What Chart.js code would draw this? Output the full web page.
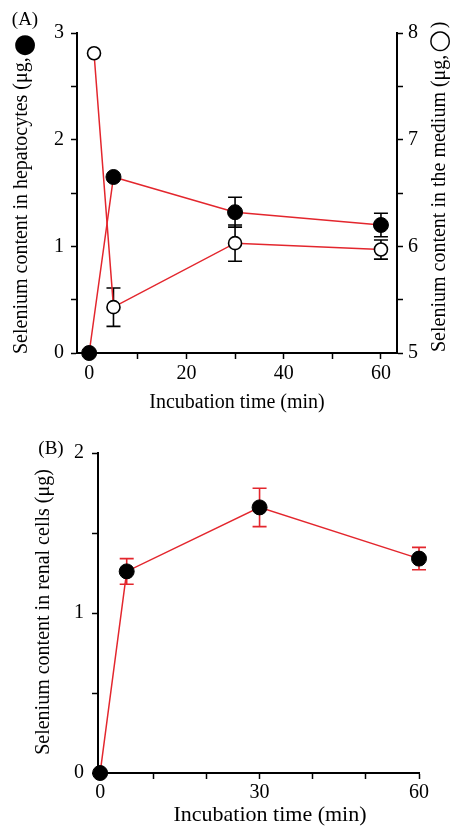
<!DOCTYPE html>
<html>
<head>
<meta charset="utf-8">
<script src="https://cdn.jsdelivr.net/npm/chart.js@4.4.1/dist/chart.umd.min.js"></script>
<style>
  html, body { margin: 0; padding: 0; background: #fff; }
  .panel { position: absolute; left: 0; }
</style>
</head>
<body>
<div class="panel" style="top:0"><canvas id="chartA" width="454" height="420"></canvas></div>
<div class="panel" style="top:420px"><canvas id="chartB" width="454" height="409"></canvas></div>
<script>
// panel A: hepatocytes (filled, left axis) and medium (open, right axis)
const timeHep = [0, 5, 30, 60];
const hepatocytes = [0, 1.65, 1.32, 1.2];
const hepatocytesErr = [0, 0, 0.14, 0.11];
const timeMed = [1, 5, 30, 60];
const medium = [7.81, 5.43, 6.03, 5.97];
const mediumErr = [0, 0.18, 0.17, 0.09];
const ticksA = [0, 10, 20, 30, 40, 50, 60];
const ticksHep = [0, 0.5, 1, 1.5, 2, 2.5, 3];
const ticksMed = [5, 5.5, 6, 6.5, 7, 7.5, 8];

// panel B: renal cells
const timeRenal = [0, 5, 30, 60];
const renal = [0, 1.26, 1.66, 1.34];
const renalErr = [0, 0.08, 0.12, 0.07];
const ticksB = [0, 10, 20, 30, 40, 50, 60];
const ticksRenal = [0, 0.5, 1, 1.5, 2];

const serif = '"Liberation Serif", "Times New Roman", serif';
const RED = '#e3262d';
const UP = -Math.PI / 2;

function pts(xs, ys) {
  return xs.map((x, i) => ({ x: x, y: ys[i] }));
}

function setTicks(list) {
  return function(scale) {
    scale.ticks = list.map(v => ({ value: v }));
  };
}

function axis(opts) {
  return {
    type: 'linear',
    position: opts.position,
    min: opts.min,
    max: opts.max,
    afterBuildTicks: setTicks(opts.ticks),
    afterFit: function(scale) {
      if (opts.width) scale.width = opts.width;
      if (opts.height) scale.height = opts.height;
    },
    ticks: {
      autoSkip: false,
      maxRotation: 0,
      color: '#000',
      padding: opts.padding,
      font: { family: serif, size: 20 },
      callback: opts.label
    },
    grid: { drawOnChartArea: false, tickLength: 6, tickColor: '#000', tickWidth: 1.5 },
    border: { color: '#000', width: 2 }
  };
}

// error bars drawn under the markers
const errorBars = {
  id: 'errorBars',
  beforeDatasetsDraw(chart) {
    const ctx = chart.ctx;
    chart.data.datasets.forEach(ds => {
      if (!ds.errors) return;
      const xs = chart.scales.x;
      const ys = chart.scales[ds.yAxisID || 'y'];
      ctx.save();
      ctx.strokeStyle = ds.errorColor;
      ctx.lineWidth = 1.6;
      ds.data.forEach((p, j) => {
        const e = ds.errors[j];
        if (!e) return;
        const px = xs.getPixelForValue(p.x);
        const top = ys.getPixelForValue(p.y + e);
        const bot = ys.getPixelForValue(p.y - e);
        ctx.beginPath();
        ctx.moveTo(px, top); ctx.lineTo(px, bot);
        ctx.moveTo(px - 7, top); ctx.lineTo(px + 7, top);
        ctx.moveTo(px - 7, bot); ctx.lineTo(px + 7, bot);
        ctx.stroke();
      });
      ctx.restore();
    });
  }
};

// axis titles and panel letters
const labels = {
  id: 'labels',
  afterDraw(chart, args, opts) {
    const ctx = chart.ctx;
    opts.items.forEach(it => {
      ctx.save();
      ctx.translate(it.x, it.y);
      ctx.rotate(it.rot || 0);
      ctx.fillStyle = '#000';
      ctx.font = (it.size || 20) + 'px ' + (it.family || serif);
      ctx.textAlign = it.align || 'center';
      ctx.textBaseline = 'middle';
      ctx.fillText(it.text, 0, 0);
      ctx.restore();
    });
  }
};

new Chart(document.getElementById('chartA'), {
  type: 'line',
  data: {
    datasets: [{
      data: pts(timeHep, hepatocytes),
      errors: hepatocytesErr,
      errorColor: '#000',
      yAxisID: 'y',
      borderColor: RED,
      borderWidth: 1.5,
      pointRadius: 7.5,
      pointBackgroundColor: '#000',
      pointBorderColor: '#000',
      pointBorderWidth: 1,
      clip: false
    }, {
      data: pts(timeMed, medium),
      errors: mediumErr,
      errorColor: '#000',
      yAxisID: 'y2',
      borderColor: RED,
      borderWidth: 1.5,
      pointRadius: 6.5,
      pointBackgroundColor: '#fff',
      pointBorderColor: '#000',
      pointBorderWidth: 1.6,
      clip: false
    }]
  },
  options: {
    responsive: false,
    animation: false,
    layout: { padding: { top: 33, left: 0, right: 0, bottom: 0 } },
    plugins: {
      legend: { display: false },
      tooltip: { enabled: false },
      labels: {
        items: [
          { text: '(A)', x: 25, y: 20, size: 19 },
          { text: 'Selenium content in hepatocytes (\u03bcg,', x: 22, y: 354, rot: UP, align: 'left' },
          { text: '\u25cf', x: 25, y: 45, size: 26, family: '"DejaVu Sans"' },
          { text: 'Selenium content in the medium (\u03bcg,', x: 440, y: 352, rot: UP, align: 'left' },
          { text: '\u25cb', x: 440, y: 41, size: 26, family: '"DejaVu Sans"' },
          { text: ')', x: 440, y: 25, rot: UP },
          { text: 'Incubation time (min)', x: 237, y: 403 }
        ]
      }
    },
    scales: {
      x: axis({ position: 'bottom', min: -2.5, max: 63.3, ticks: ticksA, height: 67, padding: 3,
                label: v => (v % 20 === 0 ? v : '') }),
      y: axis({ position: 'left', min: 0, max: 3, ticks: ticksHep, width: 77, padding: 7,
                label: v => (Number.isInteger(v) ? v : '') }),
      y2: axis({ position: 'right', min: 5, max: 8, ticks: ticksMed, width: 57, padding: 5,
                 label: v => (Number.isInteger(v) ? v : '') })
    }
  },
  plugins: [errorBars, labels]
});

new Chart(document.getElementById('chartB'), {
  type: 'line',
  data: {
    datasets: [{
      data: pts(timeRenal, renal),
      errors: renalErr,
      errorColor: RED,
      yAxisID: 'y',
      borderColor: RED,
      borderWidth: 1.5,
      pointRadius: 7.5,
      pointBackgroundColor: '#000',
      pointBorderColor: '#000',
      pointBorderWidth: 1,
      clip: false
    }]
  },
  options: {
    responsive: false,
    animation: false,
    layout: { padding: { top: 33, left: 0, right: 35, bottom: 0 } },
    plugins: {
      legend: { display: false },
      tooltip: { enabled: false },
      labels: {
        items: [
          { text: '(B)', x: 51, y: 29, size: 19 },
          { text: 'Selenium content in renal cells (\u03bcg)', x: 44, y: 192, rot: UP },
          { text: 'Incubation time (min)', x: 270, y: 395, size: 22 }
        ]
      }
    },
    scales: {
      x: axis({ position: 'bottom', min: -0.4, max: 60, ticks: ticksB, height: 56, padding: 2,
                label: v => (v % 30 === 0 ? v : '') }),
      y: axis({ position: 'left', min: 0, max: 2, ticks: ticksRenal, width: 98, padding: 8,
                label: v => (Number.isInteger(v) ? v : '') })
    }
  },
  plugins: [errorBars, labels]
});
</script>
</body>
</html>
